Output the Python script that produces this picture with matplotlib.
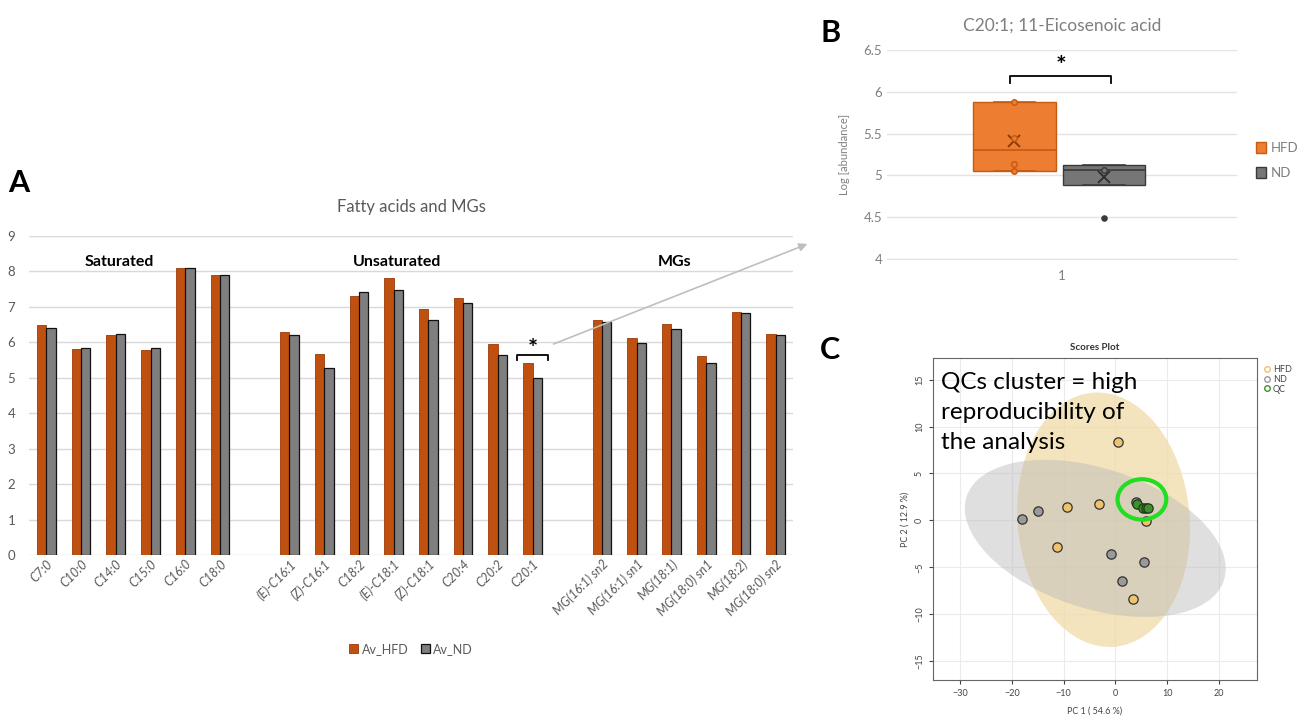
import numpy as np
import matplotlib
matplotlib.use("Agg")
import matplotlib.pyplot as plt
from matplotlib.patches import Ellipse, Patch, FancyArrowPatch
from matplotlib.lines import Line2D
from matplotlib.transforms import Affine2D

plt.rcParams['font.family'] = ['Lato', 'DejaVu Sans']

# ---- panel A data ----
saturated = ["C7:0", "C10:0", "C14:0", "C15:0", "C16:0", "C18:0"]
unsaturated = ["(E)-C16:1", "(Z)-C16:1", "C18:2", "(E)-C18:1", "(Z)-C18:1",
               "C20:4", "C20:2", "C20:1"]
mgs = ["MG(16:1) sn2", "MG(16:1) sn1", "MG(18:1)", "MG(18:0) sn1",
       "MG(18:2)", "MG(18:0) sn2"]
hfd_sat = [6.49, 5.81, 6.22, 5.77, 8.09, 7.89]
nd_sat = [6.40, 5.85, 6.24, 5.83, 8.11, 7.89]
hfd_uns = [6.29, 5.67, 7.30, 7.82, 6.94, 7.26, 5.95, 5.41]
nd_uns = [6.21, 5.27, 7.41, 7.49, 6.64, 7.12, 5.64, 4.98]
hfd_mg = [6.62, 6.13, 6.52, 5.61, 6.86, 6.24]
nd_mg = [6.58, 5.97, 6.38, 5.43, 6.82, 6.22]
group_names = ["Saturated", "Unsaturated", "MGs"]

# ---- panel B data (box stats, log abundance) ----
b_hfd_stats = dict(q1=5.05, med=5.30, q3=5.88, lo=5.05, hi=5.88, mean=5.41)
b_nd_stats = dict(q1=4.89, med=5.07, q3=5.12, lo=4.89, hi=5.13, mean=4.98)
b_hfd_points = [5.88, 5.45, 5.14, 5.05]
b_nd_points = [5.07]
b_nd_outliers = [4.49]

# ---- panel C data (PCA scores) ----
pc_hfd_x = [0.4, -9.3, -3.2, -11.3, 5.9, 3.3]
pc_hfd_y = [8.3, 1.46, 1.8, -2.84, -0.07, -8.4]
pc_nd_x = [-18.1, -15.0, -0.8, 5.5, 1.3, 3.9]
pc_nd_y = [0.2, 1.0, -3.6, -4.4, -6.5, 2.0]
pc_qc_x = [4.1, 5.4, 5.9, 6.2]
pc_qc_y = [1.7, 1.35, 1.28, 1.35]

W, H = 1299, 723
fig = plt.figure(figsize=(W / 100, H / 100), dpi=100)

def ax_px(x0, y0, x1, y1):
    return fig.add_axes([x0 / W, 1 - y1 / H, (x1 - x0) / W, (y1 - y0) / H])

# ================= Panel A =================
axA = ax_px(29, 236, 793, 555)
labels = saturated + [""] + unsaturated + [""] + mgs
hfd = hfd_sat + [np.nan] + hfd_uns + [np.nan] + hfd_mg
nd = nd_sat + [np.nan] + nd_uns + [np.nan] + nd_mg
x = np.arange(len(labels))
bw = 0.27
axA.bar(x - bw / 2, hfd, bw, color="#C0500F", edgecolor="#9A3A08", linewidth=0.6,
        label="Av_HFD", zorder=3)
axA.bar(x + bw / 2, nd, bw, color="#7F7F7F", edgecolor="#111111", linewidth=0.9,
        label="Av_ND", zorder=3)
axA.set_xlim(-0.5, len(labels) - 0.5)
axA.set_ylim(0, 9)
axA.set_yticks(range(10))
axA.yaxis.grid(True, color="#D9D9D9", linewidth=1)
axA.set_axisbelow(True)
for s in axA.spines.values():
    s.set_visible(False)
axA.tick_params(axis="y", length=0, colors="#595959", labelsize=9.5, pad=10)
axA.tick_params(axis="x", length=0, colors="#595959", pad=2)
ticks = [i for i, l in enumerate(labels) if l]
axA.set_xticks(ticks)
axA.set_xticklabels([labels[i] for i in ticks], rotation=45, ha="right",
                    rotation_mode="anchor", fontsize=9, style="italic",
                    color="#595959")
group_centers = [np.mean(x[0:6]), np.mean(x[7:15]), np.mean(x[16:22])]
for gx, gn in zip(group_centers, group_names):
    axA.text(gx - 0.4, 8.28, gn, ha="center", va="center", fontsize=11.5,
             fontweight="bold", color="black")
axA.set_title("Fatty acids and MGs", fontsize=12, color="#595959", pad=17)
# significance bracket on C20:1
ic = labels.index("C20:1")
axA.plot([ic - 0.45, ic - 0.45, ic + 0.45, ic + 0.45],
         [5.5, 5.63, 5.63, 5.5], color="black", linewidth=1.3, zorder=4)
axA.text(ic, 5.8, "*", ha="center", va="center", fontsize=17, fontweight="bold")
axA.legend(loc="upper center", bbox_to_anchor=(0.5, -0.24), ncol=2, frameon=False,
           fontsize=9, handlelength=0.7, handleheight=0.7, handletextpad=0.3,
           columnspacing=1.0, labelcolor="#595959")
fig.text(8 / W, 1 - 183 / H, "A", fontsize=22, fontweight="bold", va="center")

# ================= Panel B =================
axB = ax_px(887, 50, 1237, 259)
pos_hfd, pos_nd, boxw = 0.364, 0.62, 0.237
for st, pos, fc, ec, mc, pts in [
        (b_hfd_stats, pos_hfd, "#ED7D31", "#C55A11", "#8A3A0A", b_hfd_points),
        (b_nd_stats, pos_nd, "#767676", "#3A3A3A", "#303030", b_nd_points)]:
    axB.bxp([dict(q1=st["q1"], med=st["med"], q3=st["q3"], whislo=st["lo"],
                  whishi=st["hi"], mean=st["mean"], fliers=[])],
            positions=[pos], widths=boxw, patch_artist=True, showmeans=True,
            meanline=False, manage_ticks=False,
            boxprops=dict(facecolor=fc, edgecolor=ec, linewidth=1),
            medianprops=dict(color=ec, linewidth=1.2),
            whiskerprops=dict(color=ec), capprops=dict(color=ec, linewidth=1.2),
            meanprops=dict(marker="x", markeredgecolor=mc, markersize=9,
                           markeredgewidth=1.4))
    axB.scatter([pos] * len(pts), pts, s=16, facecolor=fc, edgecolor=ec,
                linewidth=1, zorder=5)
axB.scatter([pos_nd] * len(b_nd_outliers), b_nd_outliers, s=14, color="#3A3A3A",
            zorder=5)
axB.set_xlim(0, 1)
axB.set_ylim(4, 6.5)
axB.set_yticks([4, 4.5, 5, 5.5, 6, 6.5])
axB.set_yticklabels(["4", "4.5", "5", "5.5", "6", "6.5"])
axB.set_xticks([0.5])
axB.set_xticklabels(["1"])
axB.yaxis.grid(True, color="#E3E3E3", linewidth=1)
axB.set_axisbelow(True)
for s in axB.spines.values():
    s.set_visible(False)
axB.spines["bottom"].set_visible(True)
axB.spines["bottom"].set_color("#E3E3E3")
axB.tick_params(length=0, colors="#7F7F7F", labelsize=9.5)
axB.tick_params(axis="x", pad=8)
axB.set_ylabel("Log [abundance]", fontsize=8, color="#7F7F7F", labelpad=10)
axB.set_title("C20:1; 11-Eicosenoic acid", fontsize=12.5, color="#7F7F7F", pad=14)
axB.plot([0.351, 0.351, 0.640, 0.640], [6.1, 6.19, 6.19, 6.1], color="black",
         linewidth=1.3)
axB.text(0.497, 6.3, "*", ha="center", va="center", fontsize=18, fontweight="bold")
axB.legend(handles=[Patch(facecolor="#ED7D31", edgecolor="#C55A11", label="HFD"),
                    Patch(facecolor="#767676", edgecolor="#3A3A3A", label="ND")],
           loc="center left", bbox_to_anchor=(1.054, 0.47), frameon=False,
           fontsize=9.5, handlelength=0.75, handleheight=0.9, labelspacing=1.0,
           labelcolor="#7F7F7F", handletextpad=0.4, borderaxespad=0, borderpad=0)
fig.text(820 / W, 1 - 33 / H, "B", fontsize=22, fontweight="bold", va="center")

# ================= Panel C =================
axC = ax_px(933, 358, 1257, 680)
axC.set_xlim(-35.2, 27.3)
axC.set_ylim(-17.0, 17.3)
kx = (27.3 + 35.2) / 324.0   # x-units per pixel
ky = (17.3 + 17.0) / 322.0   # y-units per pixel
sq = Affine2D().scale(1, ky / kx) + axC.transData
# confidence ellipses (drawn in pixel-isotropic space)
axC.add_patch(Ellipse((-2.3, 0.07 * kx / ky), 2 * 16.6, 2 * 24.6, angle=5,
                      facecolor="#F0DBA8", alpha=0.75, edgecolor="none",
                      transform=sq, zorder=1))
axC.add_patch(Ellipse((-3.9, -1.92 * kx / ky), 2 * 26.1, 2 * 13.5, angle=-18,
                      facecolor="#B8B8B8", alpha=0.45, edgecolor="none",
                      transform=sq, zorder=2))
axC.scatter(pc_hfd_x, pc_hfd_y, s=45, facecolor="#EFC26E", edgecolor="#333333",
            linewidth=0.9, zorder=4)
axC.scatter(pc_nd_x, pc_nd_y, s=45, facecolor="#9A9A9A", edgecolor="#333333",
            linewidth=0.9, zorder=4)
axC.scatter(pc_qc_x, pc_qc_y, s=45, facecolor="#3F8F2F", edgecolor="#1E3A16",
            linewidth=0.9, zorder=5)
axC.add_patch(Ellipse((5.1, 2.24), 9.4, 4.3, facecolor="none", edgecolor="#22DD22",
                      linewidth=3, zorder=6))
axC.set_xticks([-30, -20, -10, 0, 10, 20])
axC.set_yticks([-15, -10, -5, 0, 5, 10, 15])
axC.grid(True, color="#EBEBEB", linewidth=0.8)
axC.set_axisbelow(True)
for s in axC.spines.values():
    s.set_color("#666666")
axC.tick_params(labelsize=6.5, colors="#444444", length=3)
for t in axC.get_yticklabels():
    t.set_rotation(90)
    t.set_va("center")
axC.set_xlabel("PC 1 ( 54.6 %)", fontsize=6.5, color="#444444", labelpad=6)
axC.set_ylabel("PC 2 ( 12.9 %)", fontsize=6.5, color="#444444", labelpad=4)
axC.set_title("Scores Plot", fontsize=7, fontweight="bold", color="#333333", pad=6)
axC.text(0.025, 0.958, "QCs cluster = high\nreproducibility of\nthe analysis",
         transform=axC.transAxes, ha="left", va="top", fontsize=17.5,
         linespacing=1.55, color="black", zorder=7)
axC.legend(handles=[Line2D([], [], marker="o", ls="none", mfc="none", mec=c, ms=4,
                           label=l)
                    for c, l in [("#EFC26E", "HFD"), ("#9A9A9A", "ND"), ("#3F8F2F", "QC")]],
           loc="upper left", bbox_to_anchor=(1.01, 0.99), frameon=False, fontsize=6.5,
           handlelength=0.6, handletextpad=0.4, labelspacing=0.1, labelcolor="#444444",
           borderaxespad=0)
fig.text(820 / W, 1 - 350 / H, "C", fontsize=22, fontweight="bold", va="center")

# arrow from panel A bracket to panel B
fig.add_artist(FancyArrowPatch(
    (551 / W, 1 - 345 / H), (810 / W, 1 - 243 / H), transform=fig.transFigure,
    arrowstyle="-|>", mutation_scale=12, color="#BFBFBF", linewidth=1.2))

fig.savefig("out.png", dpi=100)
